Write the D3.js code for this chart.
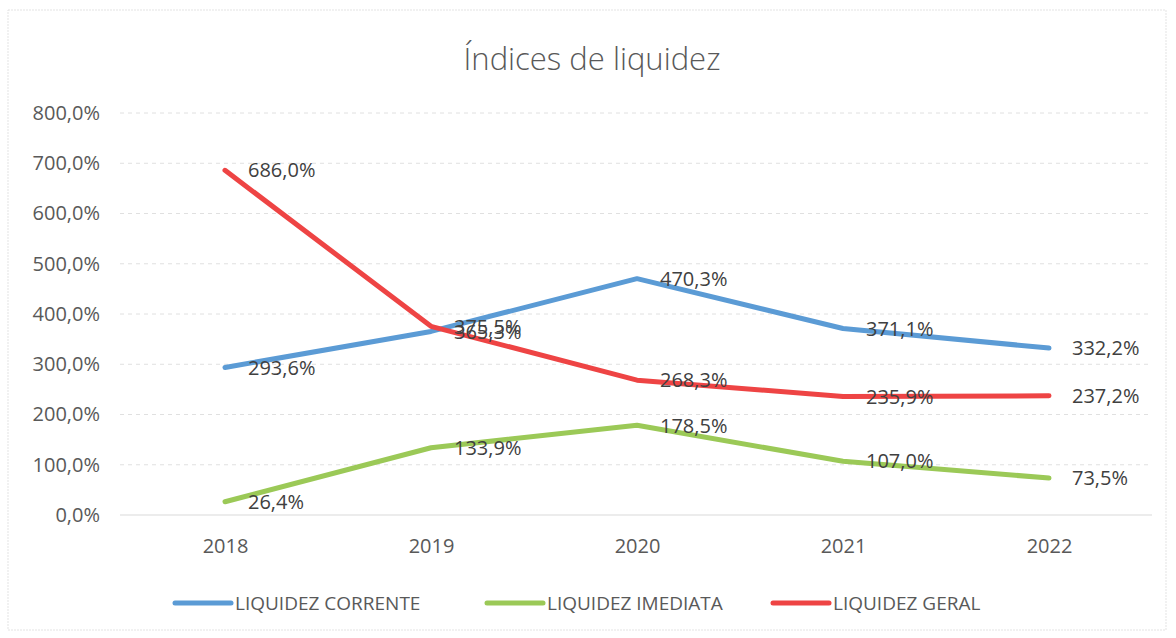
<!DOCTYPE html>
<html>
<head>
<meta charset="utf-8">
<script src="https://cdn.jsdelivr.net/npm/d3@7"></script>
<style>
  body { margin: 0; background: #fff; }
  text { font-family: "Open Sans", "Noto Sans", sans-serif; }
</style>
</head>
<body>
<div class="canvas"></div>
<script>
const years = ["2018", "2019", "2020", "2021", "2022"];
const corrente = [293.6, 365.3, 470.3, 371.1, 332.2];
const imediata = [26.4, 133.9, 178.5, 107.0, 73.5];
const geral = [686.0, 375.5, 268.3, 235.9, 237.2];
const yTicks = [0, 100, 200, 300, 400, 500, 600, 700, 800];

const series = [
  { name: "LIQUIDEZ CORRENTE", values: corrente, color: "#5b9bd5" },
  { name: "LIQUIDEZ IMEDIATA", values: imediata, color: "#9bc957" },
  { name: "LIQUIDEZ GERAL", values: geral, color: "#ee4444" },
];

const dims = { width: 1176, height: 638 };

const svg = d3
  .select(".canvas")
  .append("svg")
  .attr("width", dims.width)
  .attr("height", dims.height);

// chart frame
svg
  .append("rect")
  .attr("x", 8)
  .attr("y", 10)
  .attr("width", 1158)
  .attr("height", 620)
  .attr("fill", "none")
  .attr("stroke", "#e3e3e3")
  .attr("stroke-dasharray", "2,1");

const x = d3.scalePoint().domain(years).range([122, 1152]).padding(0.5);
const y = d3.scaleLinear().domain([0, 800]).range([515, 113]);

const fmt = (v) => d3.format(".1f")(v).replace(".", ",") + "%";

// title
svg
  .append("text")
  .attr("x", 592)
  .attr("y", 70)
  .attr("text-anchor", "middle")
  .attr("font-size", 31)
  .attr("font-weight", 300)
  .attr("fill", "#595959")
  .text("Índices de liquidez");

// gridlines
const grid = svg.append("g");
grid
  .selectAll("line")
  .data(yTicks)
  .enter()
  .append("line")
  .attr("x1", 120)
  .attr("x2", 1152)
  .attr("y1", (d) => y(d))
  .attr("y2", (d) => y(d))
  .attr("stroke", (d) => (d === 0 ? "#d9d9d9" : "#e0e0e0"))
  .attr("stroke-width", 1)
  .attr("stroke-dasharray", (d) => (d === 0 ? null : "4,4"));

// y axis labels
const yAxis = svg
  .append("g")
  .attr("transform", "translate(100,0)")
  .call(d3.axisLeft(y).tickValues(yTicks).tickSize(0).tickPadding(0).tickFormat(fmt));
yAxis.select(".domain").remove();
yAxis.selectAll("text").attr("font-size", 20).attr("fill", "#595959")
  .attr("font-family", "'Open Sans', sans-serif");

// x axis labels
const xAxis = svg
  .append("g")
  .attr("transform", `translate(0,${y(0)})`)
  .call(d3.axisBottom(x).tickSize(0).tickPadding(24));
xAxis.select(".domain").remove();
xAxis.selectAll("text").attr("font-size", 20).attr("fill", "#595959")
  .attr("font-family", "'Open Sans', sans-serif");

const line = d3
  .line()
  .x((d, i) => x(years[i]))
  .y((d) => y(d));

// lines
svg
  .selectAll("path.series")
  .data(series)
  .enter()
  .append("path")
  .attr("class", "series")
  .attr("d", (d) => line(d.values))
  .attr("fill", "none")
  .attr("stroke", (d) => d.color)
  .attr("stroke-width", 5)
  .attr("stroke-linejoin", "round")
  .attr("stroke-linecap", "round");

// data labels, to the right of each point
series.forEach((s) => {
  svg
    .append("g")
    .selectAll("text")
    .data(s.values)
    .enter()
    .append("text")
    .attr("x", (d, i) => x(years[i]) + 23)
    .attr("y", (d) => y(d))
    .attr("dy", "0.36em")
    .attr("font-size", 20)
    .attr("fill", "#404040")
    .text(fmt);
});

// legend
const legendX = [175, 487, 773];
const legend = svg
  .selectAll("g.legend")
  .data(series)
  .enter()
  .append("g")
  .attr("class", "legend")
  .attr("transform", (d, i) => `translate(${legendX[i]},603)`);

legend
  .append("line")
  .attr("x1", 0)
  .attr("x2", 56)
  .attr("stroke", (d) => d.color)
  .attr("stroke-width", 5)
  .attr("stroke-linecap", "round");

legend
  .append("text")
  .attr("x", 60)
  .attr("dy", "0.36em")
  .attr("font-size", 19)
  .attr("fill", "#595959")
  .text((d) => d.name);
</script>
</body>
</html>
